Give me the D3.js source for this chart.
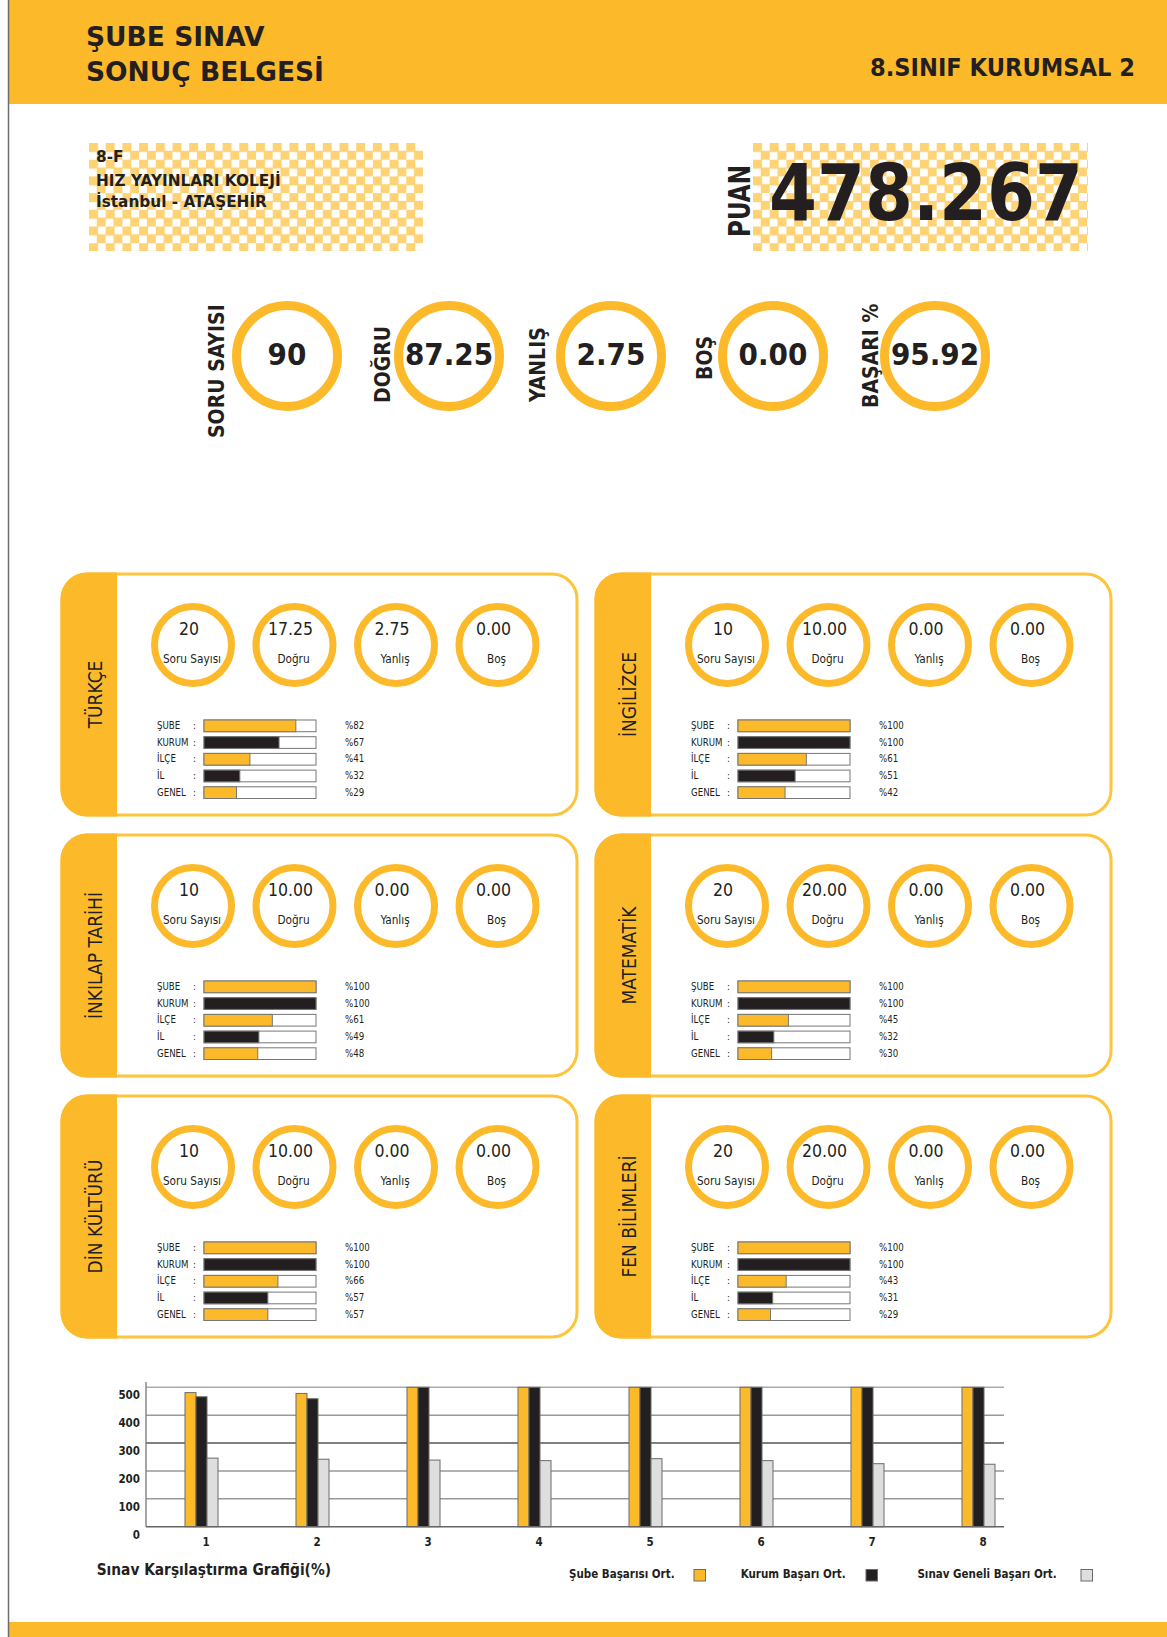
<!DOCTYPE html>
<html><head><meta charset="utf-8">
<script src="https://cdn.jsdelivr.net/npm/d3@7"></script>
<style>
html,body{margin:0;padding:0;background:#fff;}
svg{display:block;}
text{font-family:'DejaVu Sans Condensed','DejaVu Sans',sans-serif;fill:#231F20;}
.wide{font-family:'DejaVu Sans',sans-serif;}
</style></head>
<body>
<svg id="c" width="1167" height="1637"></svg>
<script>
// ---------- DATA ----------
const titleLines = ["ŞUBE SINAV", "SONUÇ BELGESİ"];
const examName = "8.SINIF KURUMSAL 2";
const infoLines = ["8-F", "HIZ YAYINLARI KOLEJİ", "İstanbul - ATAŞEHİR"];
const scoreLabel = "PUAN";
const scoreValue = "478.267";
const summaryLabels = ["SORU SAYISI", "DOĞRU", "YANLIŞ", "BOŞ", "BAŞARI %"];
const summaryValues = ["90", "87.25", "2.75", "0.00", "95.92"];

const subjects = ["TÜRKÇE", "İNGİLİZCE", "İNKILAP TARİHİ", "MATEMATİK", "DİN KÜLTÜRÜ", "FEN BİLİMLERİ"];
const soruSayisi = [20, 10, 10, 20, 10, 20];
const dogru = [17.25, 10, 10, 20, 10, 20];
const yanlis = [2.75, 0, 0, 0, 0, 0];
const bos = [0, 0, 0, 0, 0, 0];
const circleLabels = ["Soru Sayısı", "Doğru", "Yanlış", "Boş"];

const levels = ["ŞUBE", "KURUM", "İLÇE", "İL", "GENEL"];
const subePct = [82, 100, 100, 100, 100, 100];
const kurumPct = [67, 100, 100, 100, 100, 100];
const ilcePct = [41, 61, 61, 45, 66, 43];
const ilPct = [32, 51, 49, 32, 57, 31];
const genelPct = [29, 42, 48, 30, 57, 29];

const groups = ["1", "2", "3", "4", "5", "6", "7", "8"];
const subeOrt = [481, 478, 500, 500, 500, 500, 500, 500];
const kurumOrt = [466, 459, 500, 500, 500, 500, 500, 500];
const genelOrt = [246, 242, 239, 237, 244, 237, 226, 224];
const yTicks = [0, 100, 200, 300, 400, 500];
const seriesNames = ["Şube Başarısı Ort.", "Kurum Başarı Ort.", "Sınav Geneli Başarı Ort."];
const chartTitle = "Sınav Karşılaştırma Grafiği(%)";

// ---------- STYLE ----------
const YEL = "#FCBA2A", DARK = "#231F20", LGRAY = "#DDDEDD";
const seriesColors = [YEL, DARK, LGRAY];

const svg = d3.select("#c");
const defs = svg.append("defs");
defs.append("filter").attr("id", "soft").append("feGaussianBlur").attr("stdDeviation", 0.6);
function makePattern(id, ox, oy) {
  const p = defs.append("pattern").attr("id", id).attr("patternUnits", "userSpaceOnUse")
    .attr("width", 16.7).attr("height", 16.7).attr("x", ox).attr("y", oy);
  p.append("rect").attr("width", 16.7).attr("height", 16.7).attr("fill", "#fff");
  p.append("rect").attr("x", -0.6).attr("y", -0.6).attr("width", 9.6).attr("height", 9.6).attr("fill", "#FDD374");
  p.append("rect").attr("x", 7.75).attr("y", 7.75).attr("width", 9.6).attr("height", 9.6).attr("fill", "#FDD374");
}
makePattern("chk", 89, 143);
makePattern("chk2", 753, 143);

// page frame
svg.append("rect").attr("x", 9).attr("y", 0).attr("width", 1158).attr("height", 104).attr("fill", YEL);
svg.append("rect").attr("x", 9).attr("y", 1622).attr("width", 1158).attr("height", 15).attr("fill", YEL);
svg.append("line").attr("x1", 8.5).attr("x2", 8.5).attr("y1", 0).attr("y2", 1637).attr("stroke", "#6d6d6d").attr("stroke-width", 1.5);

// header
svg.selectAll("text.title").data(titleLines).join("text").attr("class", "title wide")
  .attr("x", 86).attr("y", (d, i) => 46 + i * 34.5)
  .attr("font-size", 26.5).attr("font-weight", "bold").text(d => d);
svg.append("text").attr("x", 1135).attr("y", 76).attr("text-anchor", "end")
  .attr("font-size", 24).attr("font-weight", "bold")
  .attr("textLength", 265).attr("lengthAdjust", "spacingAndGlyphs").text(examName);

// info box
svg.append("rect").attr("x", 89).attr("y", 143).attr("width", 334).attr("height", 108).attr("fill", "url(#chk)").attr("filter", "url(#soft)");
svg.selectAll("text.info").data(infoLines).join("text").attr("class", "info wide")
  .attr("x", 96).attr("y", (d, i) => [162, 186, 207][i])
  .attr("font-size", 15.3).attr("font-weight", "bold").text(d => d);

// score box
svg.append("rect").attr("x", 753).attr("y", 143).attr("width", 335).attr("height", 108).attr("fill", "url(#chk2)").attr("filter", "url(#soft)");
svg.append("text").attr("transform", "translate(750,237) rotate(-90)")
  .attr("font-size", 30).attr("font-weight", "bold")
  .attr("textLength", 72).attr("lengthAdjust", "spacingAndGlyphs").text(scoreLabel);
svg.append("text").attr("x", 769).attr("y", 220).attr("font-size", 78).attr("font-weight", "bold")
  .attr("textLength", 314).attr("lengthAdjust", "spacingAndGlyphs").text(scoreValue);

// summary circles
const sumX = d3.scaleLinear().domain([0, 4]).range([287, 935]);
const labelBaseX = [224, 390, 545, 712, 878];
const labelBottomY = [438, 403, 402, 380, 408];
const sg = svg.append("g");
summaryValues.forEach((v, i) => {
  sg.append("circle").attr("cx", sumX(i)).attr("cy", 356).attr("r", 50.5)
    .attr("fill", "none").attr("stroke", YEL).attr("stroke-width", 9);
  sg.append("text").attr("x", sumX(i)).attr("y", 365).attr("text-anchor", "middle")
    .attr("font-size", 31).attr("font-weight", "bold").text(v);
  sg.append("text").attr("transform", `translate(${labelBaseX[i]},${labelBottomY[i]}) rotate(-90)`)
    .attr("font-size", 21).attr("font-weight", "bold").text(summaryLabels[i]);
});

// subject panels
const colX = [62, 596], rowY = [574, 835, 1096];
const PW = 515, PH = 241, R = 25, TAB = 55;
const barX = d3.scaleLinear().domain([0, 100]).range([0, 112]);
const pctSeries = [subePct, kurumPct, ilcePct, ilPct, genelPct];
const levelColors = [YEL, DARK, YEL, DARK, YEL];
const circleSeries = [soruSayisi, dogru, yanlis, bos];

subjects.forEach((s, k) => {
  const px = colX[k % 2], py = rowY[Math.floor(k / 2)];
  const g = svg.append("g");
  g.append("rect").attr("x", px).attr("y", py).attr("width", PW).attr("height", PH)
    .attr("rx", R).attr("fill", "#fff").attr("stroke", "#FDC43C").attr("stroke-width", 3);
  const x0 = px - 1.5, y0 = py - 1.5, h = PH + 3, r = R + 1.5;
  g.append("path").attr("fill", YEL)
    .attr("d", `M${px + TAB},${y0} L${x0 + r},${y0} A${r},${r} 0 0 0 ${x0},${y0 + r} L${x0},${y0 + h - r} A${r},${r} 0 0 0 ${x0 + r},${y0 + h} L${px + TAB},${y0 + h} Z`);
  g.append("text").attr("transform", `translate(${px + 40},${py + PH / 2}) rotate(-90)`)
    .attr("text-anchor", "middle").attr("font-size", 19).text(s);

  circleSeries.forEach((arr, i) => {
    const cx = px + 131 + i * 101.5, cy = py + 71;
    g.append("circle").attr("cx", cx).attr("cy", cy).attr("r", 38.5)
      .attr("fill", "#fff").attr("stroke", YEL).attr("stroke-width", 7);
    const val = i === 0 ? String(arr[k]) : arr[k].toFixed(2);
    g.append("text").attr("x", cx - 4).attr("y", py + 61).attr("text-anchor", "middle")
      .attr("font-size", 17.5).text(val);
    g.append("text").attr("x", cx - 1).attr("y", py + 89).attr("text-anchor", "middle")
      .attr("font-size", 11.7).text(circleLabels[i]);
  });

  levels.forEach((lv, j) => {
    const v = pctSeries[j][k];
    const by = py + 146 + j * 16.7;
    g.append("text").attr("x", px + 95).attr("y", py + 155 + j * 16.7).attr("font-size", 9.6).text(lv);
    g.append("text").attr("x", px + 131).attr("y", py + 155 + j * 16.7).attr("font-size", 9.6).text(":");
    g.append("rect").attr("x", px + 142).attr("y", by).attr("width", barX(100)).attr("height", 11.7)
      .attr("fill", "#fff").attr("stroke", "#777").attr("stroke-width", 1);
    g.append("rect").attr("x", px + 142).attr("y", by).attr("width", barX(v)).attr("height", 11.7)
      .attr("fill", levelColors[j]).attr("stroke", "#777").attr("stroke-width", 1);
    g.append("text").attr("x", px + 283).attr("y", py + 155 + j * 16.7).attr("font-size", 9.6).text("%" + v);
  });
});

// comparison chart
const y = d3.scaleLinear().domain([0, 500]).range([1526.7, 1387.3]);
const x = d3.scaleBand().domain(groups).range([146, 1034]);
const xs = d3.scaleBand().domain([0, 1, 2]).range([0, 33]);
const cg = svg.append("g");
yTicks.filter(t => t > 0).forEach(t => {
  cg.append("line").attr("x1", 146).attr("x2", 1004).attr("y1", y(t)).attr("y2", y(t))
    .attr("stroke", t === 300 ? "#555" : (t === 500 ? "#aaa" : "#999")).attr("stroke-width", 1.5);
});
cg.append("line").attr("x1", 146).attr("x2", 146).attr("y1", 1382).attr("y2", y(0))
  .attr("stroke", "#888").attr("stroke-width", 1.5);
const series = [subeOrt, kurumOrt, genelOrt];
series.forEach((arr, si) => {
  cg.selectAll(null).data(groups).join("rect")
    .attr("x", d => x(d) + x.bandwidth() / 2 - 16.5 + xs(si))
    .attr("y", (d, i) => y(arr[i]))
    .attr("width", xs.bandwidth())
    .attr("height", (d, i) => y(0) - y(arr[i]))
    .attr("fill", seriesColors[si]).attr("stroke", "#6b6b6b").attr("stroke-width", 1);
});
cg.append("line").attr("x1", 146).attr("x2", 1004).attr("y1", y(0)).attr("y2", y(0))
  .attr("stroke", "#666").attr("stroke-width", 1.5);
cg.selectAll("text.yt").data(yTicks).join("text").attr("class", "yt")
  .attr("x", 140).attr("y", d => y(d) + 12).attr("text-anchor", "end")
  .attr("font-size", 11.5).attr("font-weight", "bold").text(d => d);
cg.selectAll("text.xt").data(groups).join("text").attr("class", "xt")
  .attr("x", d => x(d) + x.bandwidth() / 2 + 4.5).attr("y", 1546).attr("text-anchor", "middle")
  .attr("font-size", 11.5).attr("font-weight", "bold").text(d => d);
cg.append("text").attr("x", 96.7).attr("y", 1575).attr("font-size", 15.3).attr("font-weight", "bold").text(chartTitle);

const legTextX = [569, 740.7, 917.4], legBoxX = [694, 866, 1081];
seriesNames.forEach((n, i) => {
  cg.append("text").attr("x", legTextX[i]).attr("y", 1578).attr("font-size", 11.5).attr("font-weight", "bold").text(n);
  cg.append("rect").attr("x", legBoxX[i]).attr("y", 1569.5).attr("width", 11.5).attr("height", 11.5)
    .attr("fill", seriesColors[i]).attr("stroke", "#6b6b6b").attr("stroke-width", 1);
});
</script>
</body></html>
